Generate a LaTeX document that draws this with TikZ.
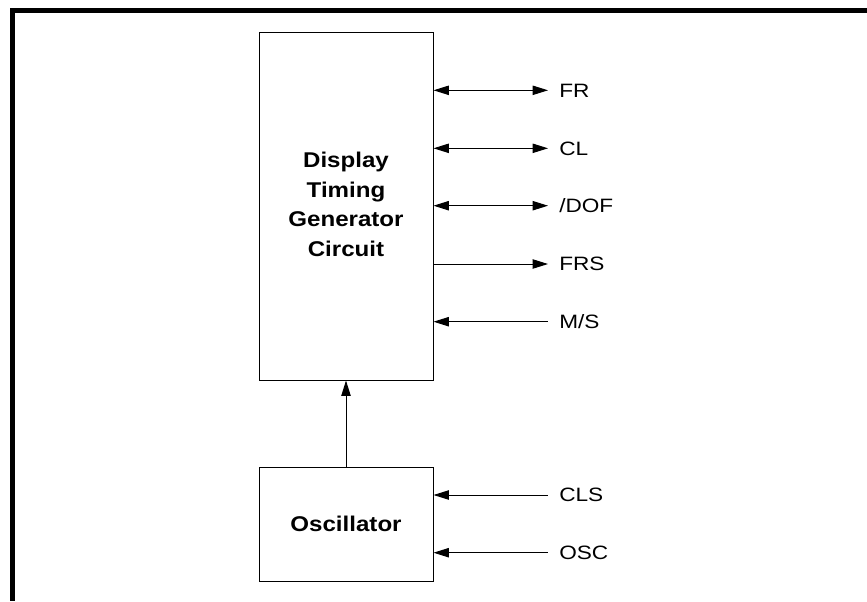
\documentclass[tikz,border=0pt]{standalone}
\usepackage{fontspec}
\usepackage{graphicx}
\setmainfont{Liberation Sans}
\usetikzlibrary{arrows.meta}
\newcommand{\wideL}[1]{\scalebox{1.17}[1]{#1}}
\newcommand{\wideB}[1]{\scalebox{1.13}[1]{#1}}
\begin{document}
\begin{tikzpicture}[x=0.75pt,y=-0.75pt,
  box/.style={draw=black, line width=0.75pt, minimum width=130.5pt, inner sep=0pt,
    font=\fontsize{16}{22.3}\selectfont\bfseries, align=center},
  sig/.style={anchor=west, inner xsep=8.25pt, inner ysep=0pt, text height=10.4pt,
    text depth=0pt, font=\fontsize{14.5}{17}\selectfont},
  conn/.style={line width=0.75pt, draw=black},
  tipR/.style={-{Triangle[length=11.5pt,width=7pt]}},
  tipL/.style={{Triangle[length=11.5pt,width=7pt]}-},
  tipB/.style={{Triangle[length=11.5pt,width=7pt]}-{Triangle[length=11.5pt,width=7pt]}}
]
\useasboundingbox (0,0) rectangle (867,601);
% frame
\fill[black] (10,8) rectangle (867,13);
\fill[black] (10,8) rectangle (15,601);

% boxes
\node[box, minimum height=261pt] (disp) at (346,206)
  {\wideB{\begin{tabular}{@{}c@{}}Display\\Timing\\Generator\\Circuit\end{tabular}}};
\node[box, minimum height=85.5pt] (osc) at (346,524) {\wideB{Oscillator}};

% signal labels
\node[sig] (fr)   at (548,90.3)  {\wideL{FR}};
\node[sig] (cl)   at (548,148.3) {\wideL{CL}};
\node[sig] (dof)  at (548,205.7) {\wideL{/DOF}};
\node[sig] (frs)  at (548,264)   {\wideL{FRS}};
\node[sig] (ms)   at (548,321.7) {\wideL{M/S}};
\node[sig] (cls)  at (548,495)   {\wideL{CLS}};
\node[sig] (oscl) at (548,552.7) {\wideL{OSC}};

% connectors
\draw[conn,tipB] (disp.east |- fr.west) -- (fr.west);
\draw[conn,tipB] (disp.east |- cl.west) -- (cl.west);
\draw[conn,tipB] (disp.east |- dof.west) -- (dof.west);
\draw[conn,tipR] (disp.east |- frs.west) -- (frs.west);
\draw[conn,tipL] (disp.east |- ms.west) -- (ms.west);
\draw[conn,tipL] (osc.east |- cls.west) -- (cls.west);
\draw[conn,tipL] (osc.east |- oscl.west) -- (oscl.west);
\draw[conn,tipR] (osc.north) -- (disp.south);
\end{tikzpicture}
\end{document}
